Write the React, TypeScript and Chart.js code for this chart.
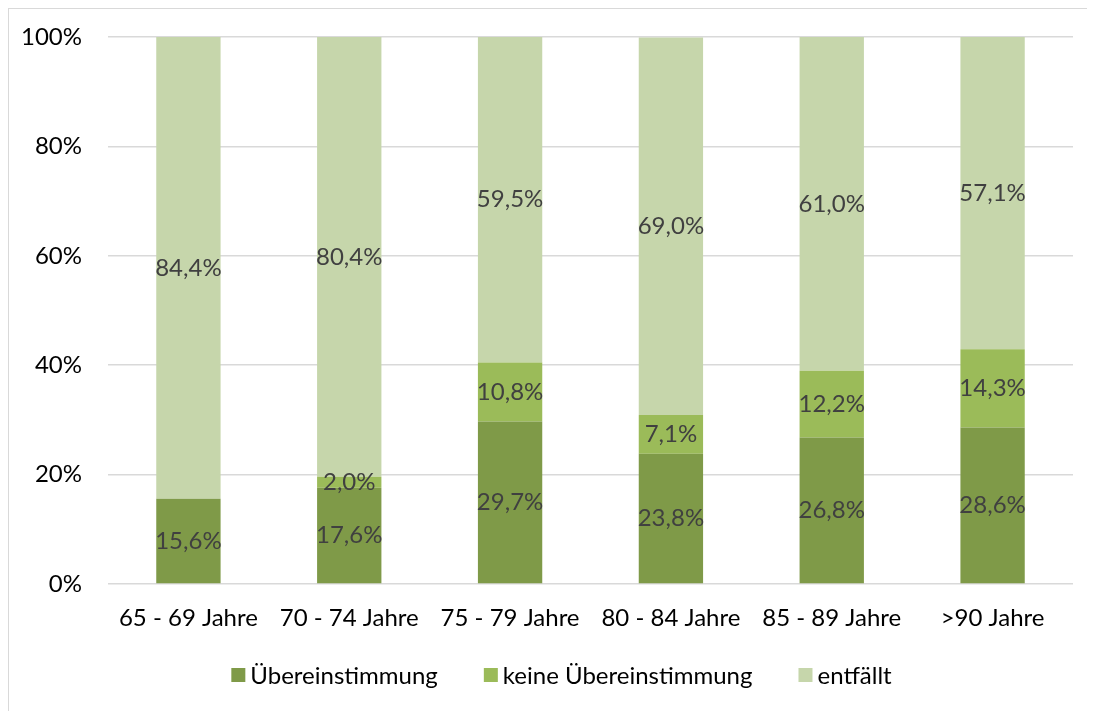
import React, { useEffect, useRef } from "react";
import { Chart, registerables } from "chart.js";

Chart.register(...registerables);

const categories = ["65 - 69 Jahre", "70 - 74 Jahre", "75 - 79 Jahre", "80 - 84 Jahre", "85 - 89 Jahre", ">90 Jahre"];
const uebereinstimmung = [15.6, 17.6, 29.7, 23.8, 26.8, 28.6];
const keineUebereinstimmung = [0, 2.0, 10.8, 7.1, 12.2, 14.3];
const entfaellt = [84.4, 80.4, 59.5, 69.0, 61.0, 57.1];
const seriesNames = ["Übereinstimmung", "keine Übereinstimmung", "entfällt"];
const seriesColors = ["#7F9A48", "#9BBB59", "#C6D6AB"];
const yTicks = [0, 20, 40, 60, 80, 100];

const FONT = "Lato, 'Noto Sans', sans-serif";
const FS = 24;

const dataLabelPlugin = {
  id: "dataLabels",
  afterDatasetsDraw(chart: any) {
    const ctx = chart.ctx;
    ctx.save();
    ctx.font = `${FS}px ${FONT}`;
    ctx.fillStyle = "#404040";
    ctx.textAlign = "center";
    ctx.textBaseline = "middle";
    chart.data.datasets.forEach((ds: any, di: number) => {
      const meta = chart.getDatasetMeta(di);
      meta.data.forEach((el: any, i: number) => {
        const v = ds.data[i];
        if (!v) return;
        const y = (el.y + el.base) / 2;
        ctx.fillText(v.toFixed(1).replace(".", ",") + "%", el.x, y);
      });
    });
    ctx.restore();
  },
};

const legendPlugin = {
  id: "customLegend",
  afterDraw(chart: any) {
    const ctx = chart.ctx;
    ctx.save();
    ctx.font = `${FS}px ${FONT}`;
    ctx.textBaseline = "middle";
    ctx.textAlign = "left";
    const box = 14;
    const gapBoxText = 5;
    const gapItems = 46;
    const ds = chart.data.datasets;
    const widths = ds.map((d: any) => box + gapBoxText + ctx.measureText(d.label).width);
    const total = widths.reduce((a: number, b: number) => a + b, 0) + gapItems * (ds.length - 1);
    let x = chart.width / 2 + 10 - total / 2;
    const y = chart.chartArea.bottom + 91;
    ds.forEach((d: any, i: number) => {
      ctx.fillStyle = d.backgroundColor;
      ctx.fillRect(x, y - box / 2, box, box);
      ctx.fillStyle = "#000";
      ctx.fillText(d.label, x + box + gapBoxText, y + 1);
      x += widths[i] + gapItems;
    });
    ctx.restore();
  },
};

export default function App() {
  const ref = useRef<HTMLCanvasElement>(null);
  useEffect(() => {
    if (!ref.current) return;
    const data = [uebereinstimmung, keineUebereinstimmung, entfaellt];
    const chart = new Chart(ref.current, {
      type: "bar",
      data: {
        labels: categories,
        datasets: data.map((d, i) => ({
          label: seriesNames[i],
          data: d,
          backgroundColor: seriesColors[i],
          borderWidth: 0,
          barPercentage: 0.4,
          categoryPercentage: 1,
        })),
      },
      options: {
        animation: false,
        responsive: false,
        layout: { padding: { left: 0, right: 22, top: 29, bottom: 81 } },
        plugins: {
          tooltip: { enabled: false },
          legend: { display: false },
        },
        scales: {
          x: {
            stacked: true,
            grid: { display: false, drawTicks: false },
            border: { display: false },
            ticks: { padding: 20, color: "#000", font: { family: FONT, size: FS }, maxRotation: 0 },
            afterFit(scale: any) {
              scale.height = 46;
            },
          },
          y: {
            stacked: true,
            min: 0,
            max: 100,
            grid: { color: "#D9D9D9", lineWidth: 1.5, drawTicks: false },
            border: { display: false },
            afterBuildTicks(scale: any) {
              scale.ticks = yTicks.map((v) => ({ value: v }));
            },
            ticks: {
              padding: 26,
              color: "#000",
              font: { family: FONT, size: FS },
              callback: (v: any) => v + "%",
            },
            afterFit(scale: any) {
              scale.width = 100;
              scale.paddingTop = 0;
              scale.paddingBottom = 0;
            },
          },
        },
      },
      plugins: [dataLabelPlugin, legendPlugin],
    });
    return () => chart.destroy();
  }, []);
  return (
    <div
      style={{
        position: "relative",
        width: 1087,
        height: 703,
        borderLeft: "1px solid #D9D9D9",
        borderTop: "1px solid #D9D9D9",
        boxSizing: "border-box",
      }}
    >
      <canvas
        ref={ref}
        width={1087}
        height={703}
        style={{ position: "absolute", left: -1, top: -1, display: "block" }}
      />
    </div>
  );
}
